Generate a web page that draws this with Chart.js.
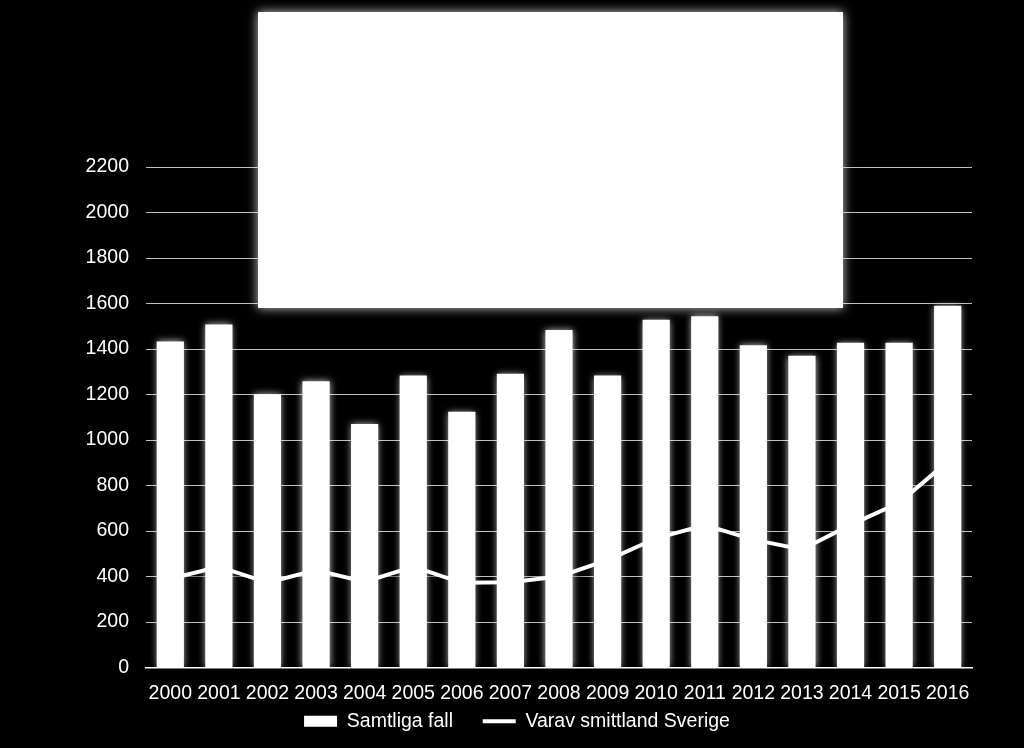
<!DOCTYPE html>
<html>
<head>
<meta charset="utf-8">
<script src="https://cdn.jsdelivr.net/npm/chart.js@4/dist/chart.umd.min.js"></script>
<style>
  html, body { margin: 0; padding: 0; background: #000; }
  #wrap { width: 1024px; height: 748px; position: relative; }
</style>
</head>
<body>
<div id="wrap"><canvas id="chart"></canvas></div>
<script>
const years = ["2000", "2001", "2002", "2003", "2004", "2005", "2006", "2007", "2008",
  "2009", "2010", "2011", "2012", "2013", "2014", "2015", "2016"];
const samtligaFall = [1433, 1508, 1201, 1258, 1070, 1283, 1124, 1291, 1483, 1283,
  1529, 1544, 1416, 1370, 1427, 1427, 1590];
const varavSverige = [390, 443, 373, 428, 376, 444, 372, 375, 400, 472,
  568, 626, 562, 519, 627, 724, 905];
const yTicks = [0, 200, 400, 600, 800, 1000, 1200, 1400, 1600, 1800, 2000, 2200];

// soft halo round the bars, dark shadow under the line
const glow = {
  id: "glow",
  beforeDatasetDraw(chart, args) {
    const ctx = chart.ctx;
    ctx.save();
    if (args.meta.type === "bar") {
      ctx.shadowColor = "rgba(255,255,255,0.75)";
      ctx.shadowBlur = 7;
    } else {
      ctx.shadowColor = "rgba(0,0,0,0.95)";
      ctx.shadowBlur = 6;
      ctx.shadowOffsetY = 3;
    }
  },
  afterDatasetDraw(chart) {
    chart.ctx.restore();
  }
};

// blank white title panel at the top
const panel = {
  id: "panel",
  afterDatasetsDraw(chart) {
    const ctx = chart.ctx;
    ctx.save();
    ctx.shadowColor = "rgba(255,255,255,0.8)";
    ctx.shadowBlur = 10;
    ctx.fillStyle = "#fff";
    ctx.fillRect(258, 12, 585, 296);
    ctx.restore();
  }
};

const font = { family: "'Liberation Sans', Arial, sans-serif", size: 19.5 };

new Chart(document.getElementById("chart"), {
  type: "bar",
  data: {
    labels: years,
    datasets: [{
      type: "bar",
      label: "Samtliga fall",
      data: samtligaFall,
      backgroundColor: "#fff",
      borderWidth: 0,
      barPercentage: 0.56,
      categoryPercentage: 1,
      pointStyle: "rect",
      order: 0
    }, {
      type: "line",
      label: "Varav smittland Sverige",
      data: varavSverige,
      borderColor: "#fff",
      backgroundColor: "#fff",
      borderWidth: 4,
      pointRadius: 0,
      tension: 0,
      pointStyle: "line",
      order: 1
    }]
  },
  options: {
    responsive: true,
    maintainAspectRatio: false,
    animation: false,
    layout: { padding: { left: 62, right: 52, top: 167, bottom: 7 } },
    plugins: {
      tooltip: { enabled: false },
      legend: {
        position: "bottom",
        labels: {
          color: "#fff",
          font: font,
          usePointStyle: true,
          pointStyleWidth: 33,
          boxHeight: 11,
          padding: 8,
          sort: (a, b) => a.datasetIndex - b.datasetIndex,
          generateLabels(chart) {
            const items = Chart.defaults.plugins.legend.labels.generateLabels(chart);
            // widen the gap after the first entry
            items[0].text = items[0].text + "    ";
            return items;
          }
        }
      }
    },
    scales: {
      x: {
        afterFit(scale) { scale.height = 36; },
        grid: { display: false },
        border: { display: true, color: "#fff", width: 1.5 },
        ticks: { color: "#fff", font: font, padding: 6, maxRotation: 0, autoSkip: false }
      },
      y: {
        min: 0,
        max: 2200,
        afterBuildTicks(scale) {
          scale.ticks = yTicks.map(v => ({ value: v }));
        },
        afterFit(scale) { scale.width = 84; },
        grid: { color: "#bfbfbf", lineWidth: 1, drawTicks: false },
        border: { display: false },
        ticks: { color: "#fff", font: font, padding: 17, callback: v => String(v) }
      }
    }
  },
  plugins: [glow, panel]
});
</script>
</body>
</html>
